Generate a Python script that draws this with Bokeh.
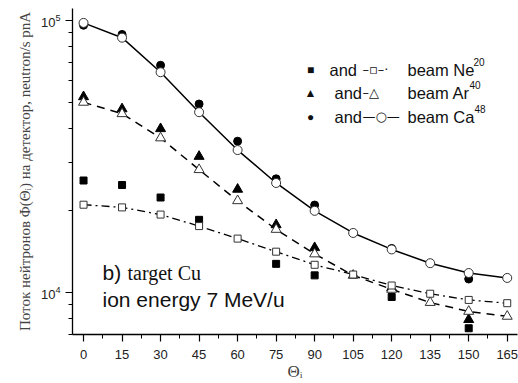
from bokeh.plotting import figure
from bokeh.models import FixedTicker, Label, Range1d
from bokeh.embed import file_html
from bokeh.resources import INLINE

# detector angles, degrees
theta = [0, 15, 30, 45, 60, 75, 90, 105, 120, 135, 150, 165]

# calculated flux (open markers, connected curves)
ca48_calc = [97800, 86300, 64400, 45900, 33300, 25200, 19900, 16500, 14350, 12770, 11750, 11270]
ar40_calc = [49900, 45300, 36900, 28200, 21670, 17000, 13810, 11520, 10230, 9150, 8487, 8140]
ne20_calc = [20960, 20490, 19280, 17490, 15730, 14080, 12600, 11600, 10570, 9860, 9355, 9100]

# measured flux (filled markers)
theta_meas = [0, 15, 30, 45, 60, 75, 90, 120, 150]
ca48_meas = [95900, 88700, 68300, 49200, 35900, 26100, 20900, 14470, 11170]
ar40_meas = [52300, 47200, 39900, 31550, 23880, 17680, 14560, 10370, 7920]
theta_ne_meas = [0, 15, 30, 45, 75, 90, 120, 150]
ne20_meas = [25730, 24770, 22280, 18440, 12700, 11520, 9590, 7360]

x_ticks = list(range(0, 166, 15))
x_minor = [t + 7.5 for t in range(0, 166, 15)]
y_ticks = [1e4, 1e5]
y_minor = [k * 1e3 for k in range(7, 10)] + [k * 1e4 for k in range(2, 10)]

SANS = "Liberation Sans"
SERIF = "Liberation Serif"

p = figure(width=518, height=383, output_backend="svg", toolbar_location=None,
           y_axis_type="log", x_range=Range1d(-4.3, 169), y_range=Range1d(6980, 110500),
           min_border_left=72, min_border_right=1, min_border_top=8, min_border_bottom=44)
p.outline_line_color = None
p.xgrid.visible = False
p.ygrid.visible = False
p.background_fill_color = "white"
p.border_fill_color = "white"

for ax in (p.xaxis[0], p.yaxis[0]):
    ax.axis_line_color = "black"
    ax.axis_line_width = 1.3
    ax.major_tick_line_color = "black"
    ax.minor_tick_line_color = "black"
    ax.major_tick_line_width = 1.2
    ax.minor_tick_line_width = 1.0
    ax.major_tick_out = 7
    ax.major_tick_in = 0
    ax.minor_tick_out = 4
    ax.minor_tick_in = 0
    ax.major_label_text_font = SANS
    ax.major_label_text_font_size = "13px"
    ax.major_label_text_color = "#222222"

p.xaxis.ticker = FixedTicker(ticks=x_ticks, minor_ticks=x_minor)
p.yaxis.ticker = FixedTicker(ticks=y_ticks, minor_ticks=y_minor)
p.xaxis.major_label_standoff = 8
p.yaxis.major_label_standoff = 5

p.xaxis.axis_label = "Θᵢ"
p.xaxis.axis_label_text_font = SERIF
p.xaxis.axis_label_text_font_style = "normal"
p.xaxis.axis_label_text_font_size = "17px"
p.xaxis.axis_label_standoff = 0

p.yaxis.axis_label = "Поток нейтронов Φ(Θᵢ) на детектор, neutron/s pnA"
p.yaxis.axis_label_text_font = SERIF
p.yaxis.axis_label_text_font_style = "normal"
p.yaxis.axis_label_text_font_size = "15px"
p.yaxis.axis_label_standoff = 5

# measured points underneath
p.scatter(theta_meas, ca48_meas, marker="circle", size=8, color="black")
p.scatter(theta_meas, ar40_meas, marker="triangle", size=10, color="black")
p.scatter(theta_ne_meas, ne20_meas, marker="square", size=7, color="black")

# calculated curves
p.line(theta, ca48_calc, line_color="black", line_width=1.5)
p.line(theta, ar40_calc, line_color="black", line_width=1.5, line_dash="8 6")
p.line(theta, ne20_calc, line_color="black", line_width=1.3, line_dash="8 4 2 4")

p.scatter(theta, ca48_calc, marker="circle", size=9, fill_color="white",
          line_color="#333333", line_width=1)
p.scatter(theta, ar40_calc, marker="triangle", size=10, fill_color="white",
          line_color="#333333", line_width=1)
p.scatter(theta, ne20_calc, marker="square", size=7, fill_color="white",
          line_color="#333333", line_width=1)

FL, FB = 72, 339  # frame left / bottom on the canvas


def put(text, cx, cy, size, font=SANS, baseline="middle", align="left"):
    p.add_layout(Label(x=cx - FL, y=FB - cy, x_units="screen", y_units="screen",
                       text=text, text_font=font, text_font_size=size,
                       text_baseline=baseline, text_align=align, text_color="#111111"))


rows = [
    ("■", 329, "–▫–·", "beam Ne", "20", 473, 74),
    ("▲", 334, "–△", "beam Ar", "40", 469, 97),
    ("●", 334, "—○—", "beam Ca", "48", 474, 121),
]
for sym, and_x, sample, beam, mass, sup_x, cy in rows:
    put(sym, 310, cy, "12px", align="center")
    put("and", and_x, cy, "16.5px")
    put(sample, 362, cy, "13px", font="DejaVu Sans")
    put(beam, 407, cy, "16.5px")
    put(mass, sup_x, cy - 8, "10px")

put("b)", 102, 277, "21px", baseline="alphabetic")
put("target Cu", 127, 277, "20px", font=SERIF, baseline="alphabetic")
put("ion energy 7 MeV/u", 102, 304, "21px", baseline="alphabetic")

open("out.html", "w").write(file_html(p, INLINE))
